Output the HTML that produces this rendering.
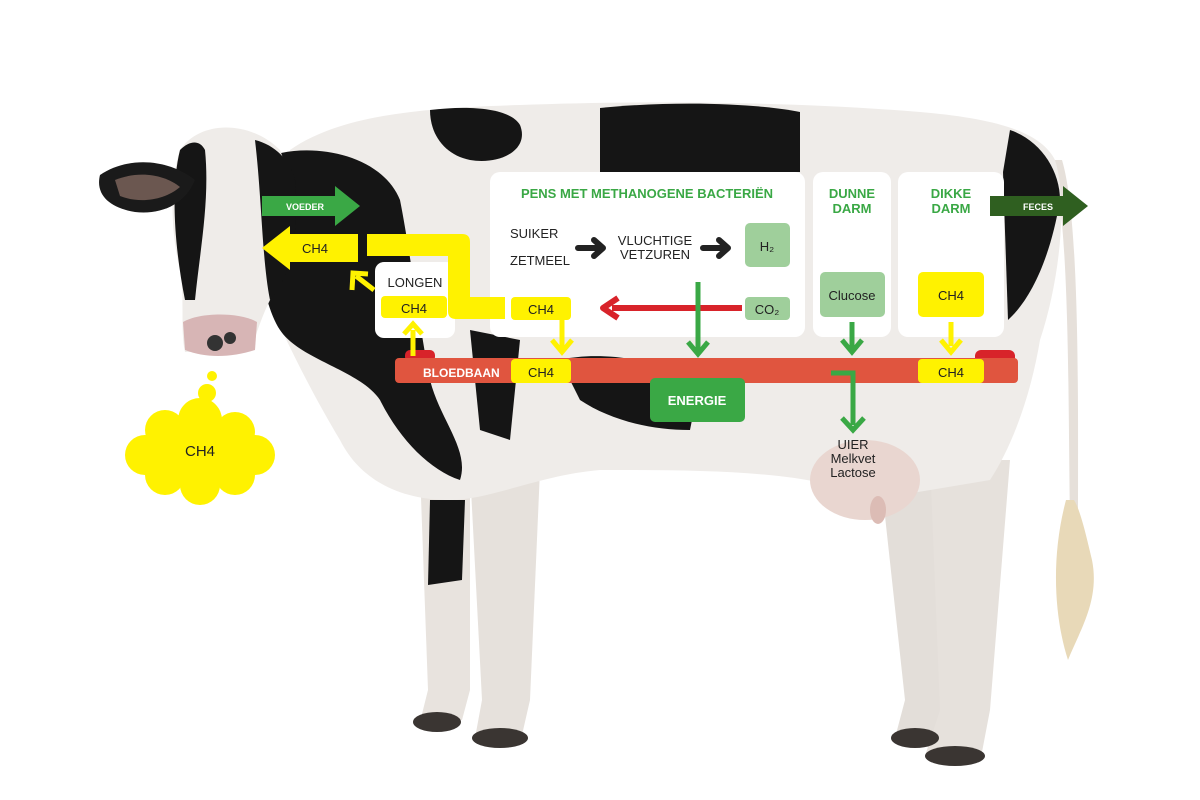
<!DOCTYPE html>
<html><head><meta charset="utf-8"><style>
html,body{margin:0;padding:0;background:#fff;}
svg{display:block;}
text{font-family:"Liberation Sans",sans-serif;}
</style></head><body>
<svg width="1200" height="800" viewBox="0 0 1200 800" xmlns="http://www.w3.org/2000/svg">
<rect width="1200" height="800" fill="#fff"/>
<!-- tail -->
<path d="M1052,160 C1070,220 1068,400 1070,520 L1078,520 C1078,400 1080,220 1062,160 Z" fill="#e6e0da"/>
<path d="M1066,500 C1050,560 1055,620 1068,660 C1080,630 1100,600 1092,560 C1085,530 1080,510 1074,500 Z" fill="#e8d9b8"/>
<!-- legs -->
<path d="M420,470 L470,470 L470,690 L462,720 L420,722 L428,690 Z" fill="#e8e3de"/>
<path d="M470,470 L540,470 L530,700 L522,735 L475,738 L482,700 Z" fill="#e6e1dc"/>
<path d="M880,470 L950,470 L945,700 L935,735 L895,738 L905,700 Z" fill="#e3ded9"/>
<path d="M930,460 L1010,460 L990,710 L982,752 L925,756 L940,710 Z" fill="#e6e1dc"/>
<ellipse cx="437" cy="722" rx="24" ry="10" fill="#3a3532"/>
<ellipse cx="500" cy="738" rx="28" ry="10" fill="#3a3532"/>
<ellipse cx="915" cy="738" rx="24" ry="10" fill="#3a3532"/>
<ellipse cx="955" cy="756" rx="30" ry="10" fill="#3a3532"/>
<path d="M430,500 L465,500 L462,580 L428,585 Z" fill="#151515"/>
<!-- body -->
<path d="M290,150 C340,115 420,108 520,105 C650,100 800,102 920,112 C990,118 1040,130 1055,160 C1068,200 1060,280 1040,340 C1030,400 1010,450 990,480 L870,500 C820,470 700,470 600,470 C540,475 490,500 450,500 C400,500 360,480 340,440 C310,390 280,330 260,280 Z" fill="#efece9"/>
<ellipse cx="865" cy="480" rx="55" ry="40" fill="#e9d6d0"/>
<ellipse cx="878" cy="510" rx="8" ry="14" fill="#dcbcb5"/>
<!-- patches -->
<path d="M430,110 C470,105 510,108 520,125 C530,150 500,165 470,160 C445,155 430,135 430,110 Z" fill="#151515"/>
<path d="M600,108 C680,100 760,104 800,112 L800,172 L600,172 Z" fill="#151515"/>
<path d="M1010,130 C1040,140 1060,170 1060,200 C1050,260 1030,300 1008,320 L1003,172 Z" fill="#151515"/>
<path d="M260,160 C300,140 380,150 400,200 C410,250 420,330 430,380 C440,420 470,450 460,480 C430,470 400,440 380,400 C360,370 300,360 280,330 C260,300 250,220 260,160 Z" fill="#151515"/>
<path d="M560,360 C600,350 660,360 700,380 L690,430 C650,430 610,420 580,400 Z" fill="#151515"/>
<path d="M470,330 L520,340 L510,440 L480,430 Z" fill="#151515"/>
<!-- head -->
<path d="M180,150 C200,120 250,120 280,150 C300,200 300,260 270,300 C260,320 255,340 250,350 L185,352 C180,330 185,300 180,270 C170,230 170,180 180,150 Z" fill="#efece9"/>
<path d="M180,150 C190,140 200,140 205,150 C210,200 200,250 195,300 L185,300 C175,250 170,190 180,150 Z" fill="#151515"/>
<path d="M255,140 C275,145 290,160 295,180 C300,230 290,280 270,300 C262,260 262,200 255,140 Z" fill="#151515"/>
<path d="M100,175 C130,155 170,160 195,180 C185,205 160,215 135,212 C110,208 95,195 100,175 Z" fill="#1a1a1a"/>
<path d="M115,180 C140,170 165,175 180,187 C165,200 140,204 120,196 Z" fill="#6b5750"/>
<path d="M183,322 C200,312 240,312 257,322 L255,350 C230,358 205,358 185,350 Z" fill="#d7b5b5"/>
<circle cx="215" cy="343" r="8" fill="#333"/><circle cx="230" cy="338" r="6" fill="#333"/>
<!-- white boxes -->
<rect x="490" y="172" width="315" height="165" rx="10" fill="#fff"/>
<rect x="813" y="172" width="78" height="165" rx="10" fill="#fff"/>
<rect x="898" y="172" width="106" height="165" rx="10" fill="#fff"/>
<rect x="375" y="262" width="80" height="76" rx="9" fill="#fff"/>
<text x="647" y="198" text-anchor="middle" font-size="13" font-weight="bold" fill="#3aa845">PENS MET METHANOGENE BACTERIËN</text>
<text x="852" y="198" text-anchor="middle" font-size="13" font-weight="bold" fill="#3aa845">DUNNE</text>
<text x="852" y="213" text-anchor="middle" font-size="13" font-weight="bold" fill="#3aa845">DARM</text>
<text x="951" y="198" text-anchor="middle" font-size="13" font-weight="bold" fill="#3aa845">DIKKE</text>
<text x="951" y="213" text-anchor="middle" font-size="13" font-weight="bold" fill="#3aa845">DARM</text>
<text x="510" y="238" font-size="13" fill="#222">SUIKER</text>
<text x="510" y="265" font-size="13" fill="#222">ZETMEEL</text>
<text x="655" y="245" text-anchor="middle" font-size="13" fill="#222">VLUCHTIGE</text>
<text x="655" y="259" text-anchor="middle" font-size="13" fill="#222">VETZUREN</text>
<g stroke="#222" stroke-width="6" fill="none" stroke-linecap="round" stroke-linejoin="round">
<path d="M578,248 H602 M594,240 L603,248 L594,256"/>
<path d="M703,248 H727 M719,240 L728,248 L719,256"/>
</g>
<rect x="745" y="223" width="45" height="44" rx="5" fill="#9fcf9b"/>
<text x="767" y="251" text-anchor="middle" font-size="13" fill="#222">H₂</text>
<rect x="745" y="297" width="45" height="23" rx="4" fill="#9fcf9b"/>
<text x="767" y="314" text-anchor="middle" font-size="13" fill="#222">CO₂</text>
<rect x="820" y="272" width="65" height="45" rx="5" fill="#9fcf9b"/>
<text x="852" y="300" text-anchor="middle" font-size="13" fill="#222">Clucose</text>
<rect x="918" y="272" width="66" height="45" rx="5" fill="#fff200"/>
<text x="951" y="300" text-anchor="middle" font-size="13" fill="#222">CH4</text>
<path d="M742,308 H612" stroke="#d8232a" stroke-width="6"/>
<path d="M618,298 L603,308 L618,318" stroke="#d8232a" stroke-width="6" fill="none" stroke-linejoin="round"/>
<path d="M698,282 V352" stroke="#3aa845" stroke-width="5"/>
<path d="M688,342 L698,354 L708,342" stroke="#3aa845" stroke-width="5" fill="none"/>
<!-- bloodstream -->
<rect x="405" y="350" width="30" height="12" rx="5" fill="#d8232a"/>
<rect x="975" y="350" width="40" height="14" rx="6" fill="#d8232a"/>
<rect x="395" y="358" width="623" height="25" rx="4" fill="#e0553f"/>
<text x="423" y="377" font-size="12" font-weight="bold" fill="#fff">BLOEDBAAN</text>
<rect x="511" y="359" width="60" height="24" rx="4" fill="#fff200"/>
<text x="541" y="377" text-anchor="middle" font-size="13" fill="#222">CH4</text>
<rect x="918" y="359" width="66" height="24" rx="4" fill="#fff200"/>
<text x="951" y="377" text-anchor="middle" font-size="13" fill="#222">CH4</text>
<rect x="650" y="378" width="95" height="44" rx="5" fill="#3aa845"/>
<text x="697" y="405" text-anchor="middle" font-size="13" font-weight="bold" fill="#fff">ENERGIE</text>
<path d="M852,322 V348" stroke="#3aa845" stroke-width="5"/>
<path d="M842,340 L852,352 L862,340" stroke="#3aa845" stroke-width="5" fill="none"/>
<path d="M831,373 H853 V425" stroke="#3aa845" stroke-width="5" fill="none"/>
<path d="M842,418 L853,430 L864,418" stroke="#3aa845" stroke-width="5" fill="none"/>
<text x="853" y="449" text-anchor="middle" font-size="13" fill="#222">UIER</text>
<text x="853" y="463" text-anchor="middle" font-size="13" fill="#222">Melkvet</text>
<text x="853" y="477" text-anchor="middle" font-size="13" fill="#222">Lactose</text>
<path d="M951,322 V346" stroke="#fff200" stroke-width="5"/>
<path d="M941,340 L951,352 L961,340" stroke="#fff200" stroke-width="5" fill="none"/>
<path d="M562,320 V348" stroke="#fff200" stroke-width="5"/>
<path d="M552,340 L562,352 L572,340" stroke="#fff200" stroke-width="5" fill="none"/>
<path d="M367,234 H462 Q470,234 470,242 V297 H505 V319 H456 Q448,319 448,311 V256 H367 Z" fill="#fff200"/>
<rect x="511" y="297" width="60" height="23" rx="4" fill="#fff200"/>
<text x="541" y="314" text-anchor="middle" font-size="13" fill="#222">CH4</text>
<path d="M262,248 L290,226 L290,234 L358,234 L358,262 L290,262 L290,270 Z" fill="#fff200"/>
<text x="315" y="253" text-anchor="middle" font-size="13" fill="#222">CH4</text>
<text x="415" y="287" text-anchor="middle" font-size="13" fill="#222">LONGEN</text>
<rect x="381" y="296" width="66" height="22" rx="4" fill="#fff200"/>
<text x="414" y="313" text-anchor="middle" font-size="13" fill="#222">CH4</text>
<path d="M413,356 V330" stroke="#fff200" stroke-width="5"/>
<path d="M404,334 L413,324 L422,334" stroke="#fff200" stroke-width="5" fill="none"/>
<path d="M374,290 L356,276" stroke="#fff200" stroke-width="5"/>
<path d="M352,290 L353,273 L368,274" stroke="#fff200" stroke-width="5" fill="none"/>
<path d="M262,196 H335 V186 L360,206 L335,226 V216 H262 Z" fill="#3aa845"/>
<text x="305" y="210" text-anchor="middle" font-size="9" font-weight="bold" fill="#fff">VOEDER</text>
<path d="M990,196 H1063 V186 L1088,206 L1063,226 V216 H990 Z" fill="#2f5f20"/>
<text x="1038" y="210" text-anchor="middle" font-size="9" font-weight="bold" fill="#fff">FECES</text>
<g fill="#fff200">
<circle cx="212" cy="376" r="5"/><circle cx="207" cy="393" r="9"/>
<circle cx="200" cy="420" r="22"/><circle cx="165" cy="430" r="20"/><circle cx="235" cy="432" r="20"/>
<circle cx="145" cy="455" r="20"/><circle cx="255" cy="455" r="20"/><circle cx="200" cy="450" r="38"/>
<circle cx="165" cy="475" r="20"/><circle cx="235" cy="475" r="20"/><circle cx="200" cy="485" r="20"/>
</g>
<text x="200" y="456" text-anchor="middle" font-size="15" fill="#222">CH4</text>
</svg>
</body></html>
